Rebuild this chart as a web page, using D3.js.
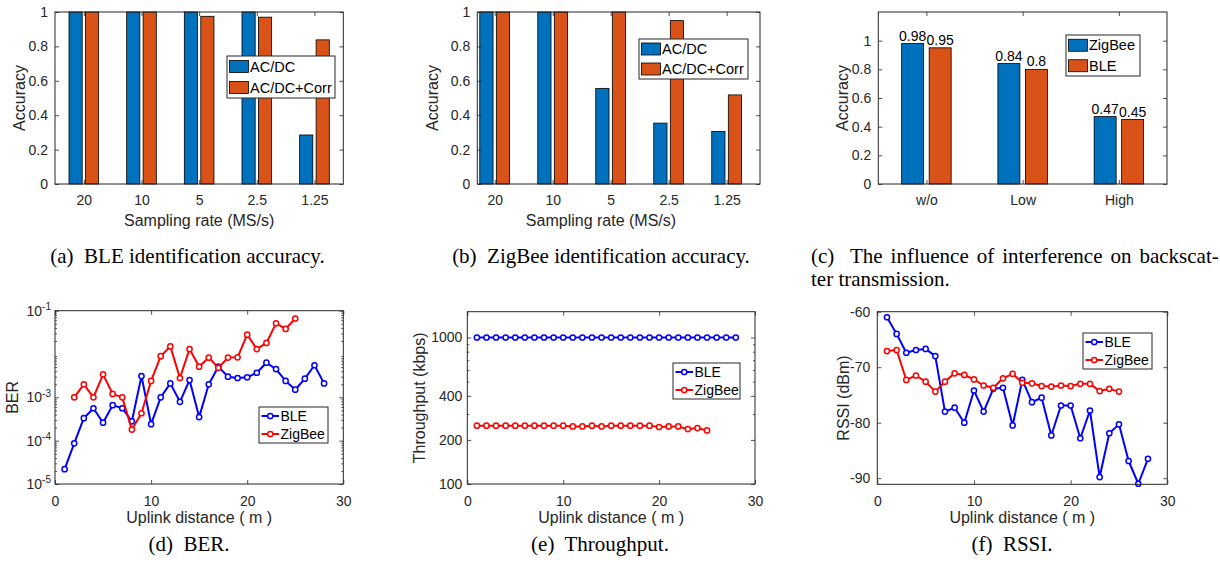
<!DOCTYPE html>
<html><head><meta charset="utf-8">
<script src="https://cdn.jsdelivr.net/npm/d3@7/dist/d3.min.js"></script>
<style>
html,body{margin:0;padding:0;background:#fff;}
svg{display:block;}
.ax text{font-family:"Liberation Sans",Arial,sans-serif;fill:#262626;}
.cap{font-family:"Liberation Serif","Times New Roman",serif;fill:#000;}
</style></head>
<body>
<svg id="fig" width="1220" height="572"></svg>
<script>
// ---------------- DATA ----------------
const rateCats = ["20", "10", "5", "2.5", "1.25"];
const bleAcdc = [1, 1, 1, 1, 0.285];
const bleCorr = [1, 1, 0.975, 0.97, 0.838];
const zigAcdc = [1, 1, 0.556, 0.354, 0.306];
const zigCorr = [1, 1, 1, 0.95, 0.518];

const interfCats = ["w/o", "Low", "High"];
const interfZig = [0.98, 0.84, 0.47];
const interfBle = [0.95, 0.80, 0.45];

const distBle = [1,2,3,4,5,6,7,8,9,10,11,12,13,14,15,16,17,18,19,20,21,22,23,24,25,26,27,28];
const distZig = [1,2,3,4,5,6,7,8,9,10,11,12,13,14,15,16,17,18,19,20,21,22,23,24,25];
const distZigBer = [2,3,4,5,6,7,8,9,10,11,12,13,14,15,16,17,18,19,20,21,22,23,24,25];

const berBle = [2.2e-5, 8.7e-5, 3.3e-4, 5.6e-4, 2.6e-4, 6.6e-4, 5.6e-4, 2.8e-4, 3.1e-3, 2.4e-4,
                1.0e-3, 2.1e-3, 7.9e-4, 2.5e-3, 3.5e-4, 2.0e-3, 5.1e-3, 3.0e-3, 2.8e-3, 2.9e-3,
                3.7e-3, 6.3e-3, 4.5e-3, 2.4e-3, 1.5e-3, 2.7e-3, 5.5e-3, 2.1e-3];
const berZig = [1.0e-3, 2.0e-3, 1.0e-3, 3.4e-3, 1.2e-3, 1.0e-3, 1.8e-4, 4.3e-4, 2.4e-3, 8.9e-3,
                1.5e-2, 2.8e-3, 1.3e-2, 5.1e-3, 8.3e-3, 4.8e-3, 8.3e-3, 8.4e-3, 2.8e-2, 1.3e-2,
                1.8e-2, 5.1e-2, 3.8e-2, 6.6e-2];

const thrBle = [1000,1000,1000,1000,1000,1000,1000,1000,1000,1000,1000,1000,1000,1000,
                1000,1000,1000,1000,1000,1000,1000,1000,1000,1000,1000,1000,1000,1000];
const thrZig = [250,250,250,250,250,250,250,250,250,250,247,247,250,247,250,250,250,250,250,
                245,247,247,237,241,232];

const rssiBle = [-61.0,-64.0,-67.4,-66.9,-66.7,-68.0,-78.0,-77.3,-80.0,-74.2,-78.0,-73.9,-73.7,-80.5,
                 -72.3,-76.3,-75.5,-82.3,-76.9,-76.9,-82.8,-77.8,-89.8,-81.9,-80.3,-86.9,-91.0,-86.5];
const rssiZig = [-67.1,-66.9,-72.3,-71.5,-72.6,-74.4,-72.6,-71.1,-71.4,-72.2,-73.3,-73.7,-72.0,-71.2,
                 -72.8,-72.9,-73.4,-73.5,-73.3,-73.4,-73.0,-73.0,-74.3,-73.9,-74.4];

const accTicks = [0, 0.2, 0.4, 0.6, 0.8, 1];
const distTicks = [0, 10, 20, 30];
const berTicks = [1e-5, 1e-4, 1e-3, 1e-1];
const thrTicks = [100, 200, 400, 1000];
const rssiTicks = [-90, -80, -70, -60];

// ---------------- STYLE ----------------
const AX = "#262626";
const C_BLUE_BAR = "#0072BD", C_RED_BAR = "#D95319";
const C_BLUE = "#0000FF", C_RED = "#FF0000";
const TICK_FS = 14, LABEL_FS = 16, LEG_FS = 14.5;

const svg = d3.select("#fig");

function box(g, L, R, T, B) {
  g.append("rect").attr("x", L).attr("y", T).attr("width", R - L).attr("height", B - T)
    .attr("fill", "none").attr("stroke", AX).attr("stroke-width", 1);
}

function styleAxis(sel) {
  sel.select(".domain").remove();
  sel.selectAll(".tick line").attr("stroke", AX).attr("stroke-width", 0.8);
  sel.selectAll(".tick text").attr("fill", AX).attr("font-size", TICK_FS)
     .attr("font-family", '"Liberation Sans",Arial,sans-serif');
}

function axes(g, x, y, L, R, T, B, xt, yt, opts) {
  opts = opts || {};
  const xfmt = opts.xfmt || (d => d);
  const yfmt = opts.yfmt || (d => d);
  const ts = 4;
  const xb = d3.axisBottom(x).tickValues(xt).tickSize(-ts).tickSizeOuter(0).tickPadding(opts.xpad || 11).tickFormat(xfmt);
  g.append("g").attr("class", "ax").attr("transform", `translate(0,${B})`).call(xb).call(styleAxis);
  g.append("g").attr("class", "ax").attr("transform", `translate(0,${T})`)
    .call(d3.axisTop(x).tickValues(xt).tickSize(-ts).tickSizeOuter(0).tickFormat("")).call(styleAxis);
  const yl = d3.axisLeft(y).tickValues(yt).tickSize(-ts).tickSizeOuter(0).tickPadding(opts.ypad || 7).tickFormat(yfmt);
  const ya = g.append("g").attr("class", "ax").attr("transform", `translate(${L},0)`).call(yl).call(styleAxis);
  g.append("g").attr("class", "ax").attr("transform", `translate(${R},0)`)
    .call(d3.axisRight(y).tickValues(yt).tickSize(-ts).tickSizeOuter(0).tickFormat("")).call(styleAxis);
  if (opts.minor) {
    g.append("g").attr("transform", `translate(${L},0)`)
      .call(d3.axisLeft(y).tickValues(opts.minor).tickSize(-2).tickSizeOuter(0).tickFormat("")).call(styleAxis);
    g.append("g").attr("transform", `translate(${R},0)`)
      .call(d3.axisRight(y).tickValues(opts.minor).tickSize(-2).tickSizeOuter(0).tickFormat("")).call(styleAxis);
  }
  return ya;
}

function xLabel(g, text, cx, by) {
  g.append("text").attr("x", cx).attr("y", by).attr("text-anchor", "middle")
    .attr("font-size", LABEL_FS).attr("fill", AX).attr("font-family", '"Liberation Sans",Arial,sans-serif').text(text);
}
function yLabel(g, text, bx, cy) {
  g.append("text").attr("transform", `translate(${bx},${cy}) rotate(-90)`).attr("text-anchor", "middle")
    .attr("font-size", LABEL_FS).attr("fill", AX).attr("font-family", '"Liberation Sans",Arial,sans-serif').text(text);
}

function barLegend(g, x0, y0, w, h, rows) {
  g.append("rect").attr("x", x0).attr("y", y0).attr("width", w).attr("height", h)
    .attr("fill", "#fff").attr("stroke", AX).attr("stroke-width", 1);
  rows.forEach((r, i) => {
    const cy = y0 + h * (i + 0.5) / rows.length;
    g.append("rect").attr("x", x0 + 2.5).attr("y", cy - 6).attr("width", 19).attr("height", 12)
      .attr("fill", r.color).attr("stroke", "#000").attr("stroke-width", 0.8);
    g.append("text").attr("x", x0 + 23).attr("y", cy + 5.2).attr("font-size", LEG_FS)
      .attr("fill", "#000").attr("font-family", '"Liberation Sans",Arial,sans-serif').text(r.label);
  });
}

function lineLegend(g, x0, y0, w, h, rows) {
  g.append("rect").attr("x", x0).attr("y", y0).attr("width", w).attr("height", h)
    .attr("fill", "#fff").attr("stroke", AX).attr("stroke-width", 1);
  rows.forEach((r, i) => {
    const cy = y0 + h * (i + 0.5) / rows.length;
    g.append("line").attr("x1", x0 + 2.5).attr("x2", x0 + 20).attr("y1", cy).attr("y2", cy)
      .attr("stroke", r.color).attr("stroke-width", 2);
    g.append("circle").attr("cx", x0 + 11.25).attr("cy", cy).attr("r", 2.6)
      .attr("fill", "#fff").attr("stroke", r.color).attr("stroke-width", 1.5);
    g.append("text").attr("x", x0 + 21.5).attr("y", cy + 5).attr("font-size", 14)
      .attr("fill", "#000").attr("font-family", '"Liberation Sans",Arial,sans-serif').text(r.label);
  });
}

function series(g, x, y, xs, ys, color) {
  const pts = xs.map((d, i) => [d, ys[i]]);
  g.append("path").datum(pts).attr("fill", "none").attr("stroke", color).attr("stroke-width", 2)
    .attr("stroke-linejoin", "round")
    .attr("d", d3.line().x(d => x(d[0])).y(d => y(d[1])));
  g.selectAll(null).data(pts).enter().append("circle")
    .attr("cx", d => x(d[0])).attr("cy", d => y(d[1])).attr("r", 2.6)
    .attr("fill", "#fff").attr("stroke", color).attr("stroke-width", 1.5);
}

// grouped bars (MATLAB geometry: group width 2/3.5, bar width 0.8 of slot)
const GW = 2 / 3.5, BW = GW / 2 * 0.8;
function bars(g, x, y, s1, s2) {
  [[s1, C_BLUE_BAR, -GW / 4], [s2, C_RED_BAR, GW / 4]].forEach(([vals, col, off]) => {
    g.selectAll(null).data(vals).enter().append("rect")
      .attr("x", (d, i) => x(i + 1 + off - BW / 2))
      .attr("width", (d, i) => x(i + 1 + off + BW / 2) - x(i + 1 + off - BW / 2))
      .attr("y", d => y(d)).attr("height", d => y(0) - y(d))
      .attr("fill", col).attr("stroke", "#000").attr("stroke-width", 0.8);
  });
}

// ---------------- (a) ----------------
{
  const L = 55, R = 343.3, T = 12, B = 184;
  const g = svg.append("g");
  const x = d3.scaleLinear().domain([0.5, 5.5]).range([L, R]);
  const y = d3.scaleLinear().domain([0, 1]).range([B, T]);
  bars(g, x, y, bleAcdc, bleCorr);
  axes(g, x, y, L, R, T, B, [1, 2, 3, 4, 5], accTicks, {xfmt: (d) => rateCats[d - 1]});
  box(g, L, R, T, B);
  barLegend(g, 227, 56, 108, 42, [{label: "AC/DC", color: C_BLUE_BAR}, {label: "AC/DC+Corr", color: C_RED_BAR}]);
  xLabel(g, "Sampling rate (MS/s)", (L + R) / 2, 226);
  yLabel(g, "Accuracy", 25, (T + B) / 2);
}
// ---------------- (b) ----------------
{
  const L = 477.3, R = 760, T = 12, B = 184;
  const g = svg.append("g");
  const x = d3.scaleLinear().domain([0.7, 5.575]).range([L, R]);
  const y = d3.scaleLinear().domain([0, 1]).range([B, T]);
  bars(g, x, y, zigAcdc, zigCorr);
  axes(g, x, y, L, R, T, B, [1, 2, 3, 4, 5], accTicks, {xfmt: (d) => rateCats[d - 1]});
  box(g, L, R, T, B);
  barLegend(g, 639, 39, 109, 40, [{label: "AC/DC", color: C_BLUE_BAR}, {label: "AC/DC+Corr", color: C_RED_BAR}]);
  xLabel(g, "Sampling rate (MS/s)", 601, 226);
  yLabel(g, "Accuracy", 438, (T + B) / 2);
}
// ---------------- (c) ----------------
{
  const L = 878.3, R = 1167, T = 12, B = 184;
  const g = svg.append("g");
  const x = d3.scaleLinear().domain([0.5, 3.5]).range([L, R]);
  const y = d3.scaleLinear().domain([0, 1.2]).range([B, T]);
  bars(g, x, y, interfZig, interfBle);
  [[interfZig, -GW / 4], [interfBle, GW / 4]].forEach(([vals, off]) => {
    g.selectAll(null).data(vals).enter().append("text")
      .attr("x", (d, i) => x(i + 1 + off)).attr("y", d => y(d) - 3)
      .attr("text-anchor", "middle").attr("font-size", 14).attr("fill", "#000")
      .attr("font-family", '"Liberation Sans",Arial,sans-serif').text(d => String(d));
  });
  axes(g, x, y, L, R, T, B, [1, 2, 3], accTicks, {xfmt: (d) => interfCats[d - 1]});
  box(g, L, R, T, B);
  barLegend(g, 1066, 35, 74, 41, [{label: "ZigBee", color: C_BLUE_BAR}, {label: "BLE", color: C_RED_BAR}]);
  yLabel(g, "Accuracy", 848, (T + B) / 2);
}
// ---------------- (d) ----------------
{
  const L = 55, R = 343.3, T = 310.7, B = 484;
  const g = svg.append("g");
  const x = d3.scaleLinear().domain([0, 30]).range([L, R]);
  const y = d3.scaleLog().domain([1e-5, 1e-1]).range([B, T]);
  const minor = [];
  [1e-5, 1e-4, 1e-3, 1e-2].forEach(p => { for (let k = 2; k <= 9; k++) minor.push(p * k); });
  const ya = axes(g, x, y, L, R, T, B, distTicks, berTicks, {minor: minor, ypad: 4, xpad: 12});
  ya.selectAll(".tick text").each(function (d) {
    const t = d3.select(this);
    t.text(null);
    t.append("tspan").text("10");
    t.append("tspan").attr("dy", "-0.55em").attr("font-size", 10).text(String(Math.round(Math.log10(d))));
  });
  series(g, x, y, distBle, berBle, C_BLUE);
  series(g, x, y, distZigBer, berZig, C_RED);
  box(g, L, R, T, B);
  lineLegend(g, 259, 407, 69, 36, [{label: "BLE", color: C_BLUE}, {label: "ZigBee", color: C_RED}]);
  xLabel(g, "Uplink distance ( m )", (L + R) / 2, 523);
  yLabel(g, "BER", 18, (T + B) / 2);
}
// ---------------- (e) ----------------
{
  const L = 467.3, R = 755, T = 311.7, B = 484;
  const g = svg.append("g");
  const x = d3.scaleLinear().domain([0, 30]).range([L, R]);
  const y = d3.scaleLog().domain([100, 1500]).range([B, T]);
  const minor = [300, 500, 600, 700, 800, 900];
  axes(g, x, y, L, R, T, B, distTicks, thrTicks, {minor: minor, ypad: 5, xpad: 12});
  series(g, x, y, distBle, thrBle, C_BLUE);
  series(g, x, y, distZig, thrZig, C_RED);
  box(g, L, R, T, B);
  lineLegend(g, 673, 363, 67, 36, [{label: "BLE", color: C_BLUE}, {label: "ZigBee", color: C_RED}]);
  xLabel(g, "Uplink distance ( m )", (L + R) / 2, 523);
  yLabel(g, "Throughput (kbps)", 425, (T + B) / 2);
}
// ---------------- (f) ----------------
{
  const L = 877.3, R = 1167.3, T = 311.7, B = 484.3;
  const g = svg.append("g");
  const x = d3.scaleLinear().domain([0, 30]).range([L, R]);
  const y = d3.scaleLinear().domain([-91.1, -60]).range([B, T]);
  axes(g, x, y, L, R, T, B, distTicks, rssiTicks, {ypad: 7, xpad: 12});
  series(g, x, y, distBle, rssiBle, C_BLUE);
  series(g, x, y, distZig, rssiZig, C_RED);
  box(g, L, R, T, B);
  lineLegend(g, 1083, 333, 69, 36, [{label: "BLE", color: C_BLUE}, {label: "ZigBee", color: C_RED}]);
  xLabel(g, "Uplink distance ( m )", (L + R) / 2, 523);
  yLabel(g, "RSSI (dBm)", 849, (T + B) / 2);
}

// ---------------- captions ----------------
const CAP_FS = 21;
function cap(x, y, txt, anchor) {
  return svg.append("text").attr("class", "cap").attr("x", x).attr("y", y)
    .attr("text-anchor", anchor || "middle").attr("font-size", CAP_FS)
    .attr("xml:space", "preserve").style("white-space", "pre").text(txt);
}
cap(187.5, 263, "(a)  BLE identification accuracy.");
cap(601, 263, "(b)  ZigBee identification accuracy.");
{
  // justified first line of the two-line caption (c)
  const t = cap(811, 263, "(c)  The influence of interference on backscat-", "start");
  const natural = t.node().getComputedTextLength();
  const target = 1216 - 811;
  const gaps = 6;
  if (natural < target) t.attr("word-spacing", (target - natural) / gaps);
}
cap(811, 286, "ter transmission.", "start");
cap(189, 551, "(d)  BER.");
cap(600, 551, "(e)  Throughput.");
cap(1012, 551, "(f)  RSSI.");
</script>
</body></html>
